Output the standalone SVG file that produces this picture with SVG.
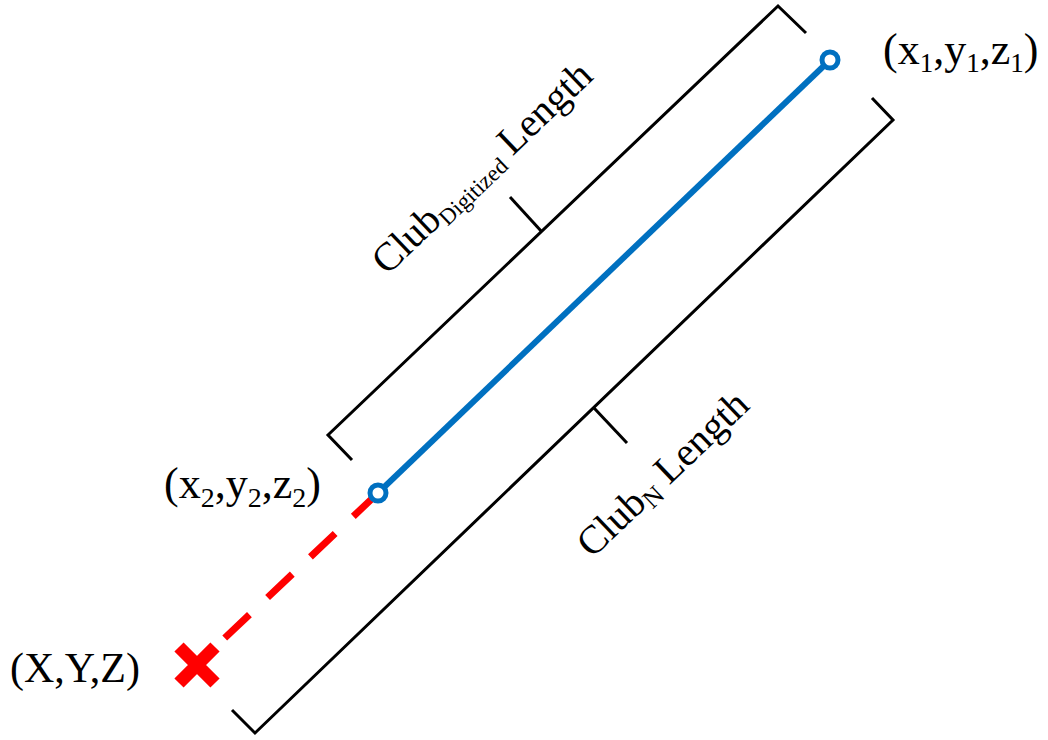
<svg xmlns="http://www.w3.org/2000/svg" width="1048" height="740" viewBox="0 0 1048 740">
<style>
.br{fill:none;stroke:#000;stroke-width:3;stroke-linejoin:miter}
.lbl{font-family:"Liberation Serif","Times New Roman",serif;fill:#000}
.pt{fill:#fff;stroke:#0070C0;stroke-width:5}
</style>
<rect width="1048" height="740" fill="#fff"/>
<g id="connectors">
<path class="br" d="M352,460 L328,435 L778,6 L806,33"/>
<path class="br" d="M542,232 L510,197"/>
<path class="br" d="M872,98 L893,120 L255,733 L232,710"/>
<path class="br" d="M594,408 L627,443"/>
<line x1="378" y1="493" x2="211" y2="651" stroke="#FF0000" stroke-width="7" stroke-dasharray="34 25"/>
<line x1="378" y1="493" x2="830" y2="60" stroke="#0070C0" stroke-width="6"/>
</g>
<g id="node-p1">
<circle class="pt" cx="830" cy="60" r="8"/>
<text class="lbl" x="883" y="64" font-size="44">(x<tspan font-size="27" dy="8">1</tspan><tspan dy="-8">,y</tspan><tspan font-size="27" dy="8">1</tspan><tspan dy="-8">,z</tspan><tspan font-size="27" dy="8">1</tspan><tspan dy="-8">)</tspan></text>
</g>
<g id="node-p2">
<circle class="pt" cx="378" cy="493" r="8"/>
<text class="lbl" x="164" y="498" font-size="44">(x<tspan font-size="28" dy="9">2</tspan><tspan dy="-9">,y</tspan><tspan font-size="28" dy="9">2</tspan><tspan dy="-9">,z</tspan><tspan font-size="28" dy="9">2</tspan><tspan dy="-9">)</tspan></text>
</g>
<g id="node-end">
<path d="M179,647 L215,683 M179,683 L215,647" stroke="#FF0000" stroke-width="13" fill="none"/>
<text class="lbl" x="10" y="682" font-size="42">(X,Y,Z)</text>
</g>
<g id="label-digitized">
<text class="lbl" font-size="40" transform="translate(387,276) rotate(-43.6)">Club<tspan font-size="23" dy="6">Digitized</tspan><tspan dy="-6"> Length</tspan></text>
</g>
<g id="label-n">
<text class="lbl" font-size="40" transform="translate(592,559) rotate(-43.6)">Club<tspan font-size="26" dy="6">N</tspan><tspan dy="-6"> Length</tspan></text>
</g>
</svg>
